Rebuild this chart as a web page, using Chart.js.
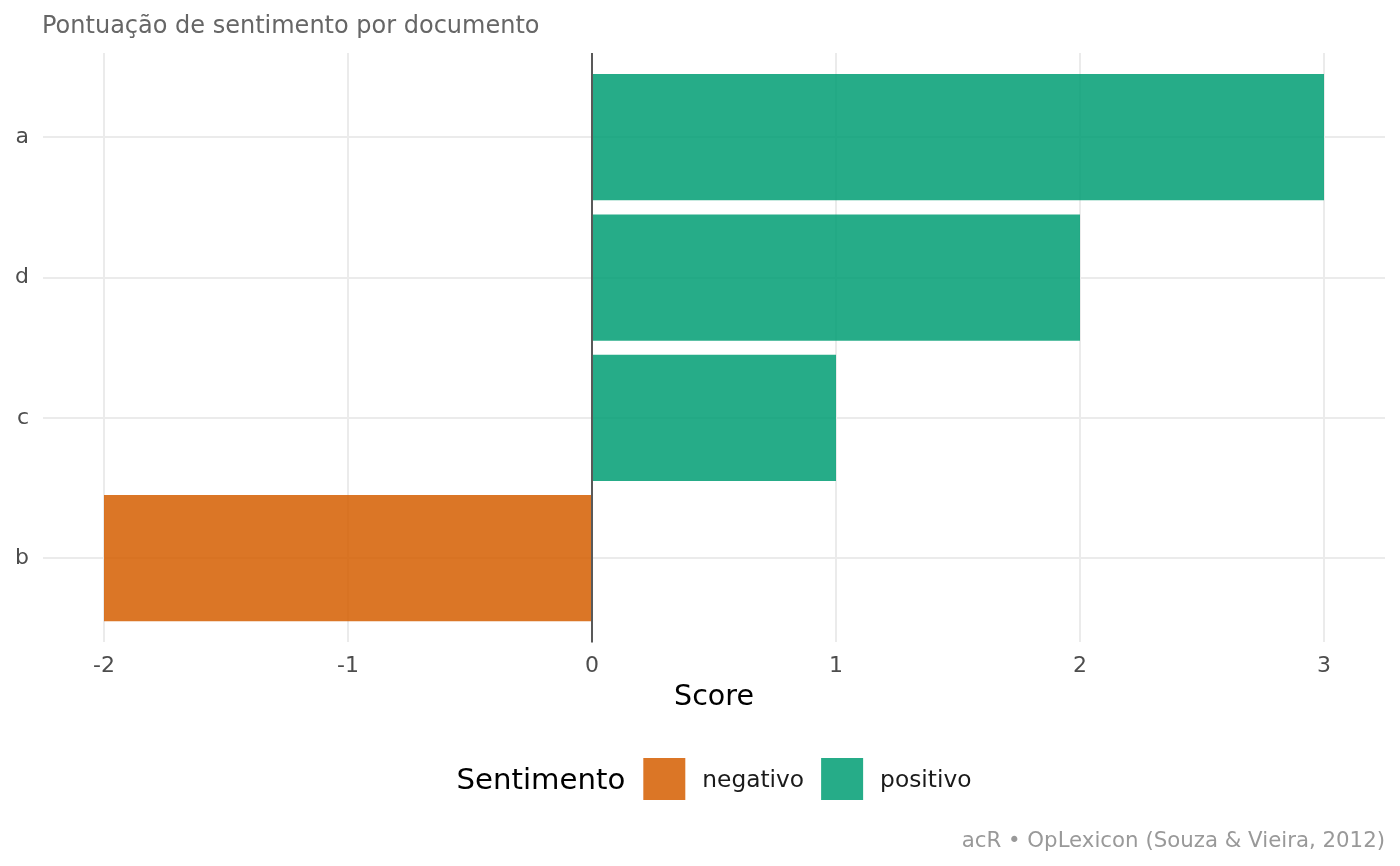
<!DOCTYPE html>
<html><head><meta charset="utf-8">
<script src="https://cdn.jsdelivr.net/npm/chart.js@4.4.1/dist/chart.umd.min.js"></script>
<style>html,body{margin:0;padding:0;background:#fff}#wrap{width:1400px;height:866px;position:relative}</style>
</head><body><div id="wrap"><canvas id="c"></canvas></div>
<script>
// ---- data ----
const categories = ['a', 'd', 'c', 'b'];
const negativoValues = [null, null, null, -2];
const positivoValues = [3, 2, 1, null];
const xTicks = [-2, -1, 0, 1, 2, 3];
const seriesNames = ['negativo', 'positivo'];
const seriesColors = ['rgba(213,94,0,0.85)', 'rgba(0,158,115,0.85)'];
const titleText = 'Pontuação de sentimento por documento';
const xTitle = 'Score';
const legendTitle = 'Sentimento';
const captionText = 'acR • OpLexicon (Souza & Vieira, 2012)';

const FONT = "'DejaVu Sans', 'Liberation Sans', sans-serif";
Chart.defaults.font.family = FONT;

// category scale with ggplot-like discrete expansion (0.6 instead of 0.5)
class PaddedCategory extends Chart.CategoryScale {
  buildTicks() {
    const ticks = super.buildTicks();
    this._startValue = this.min - 0.6;
    this._valueRange = (this.max - this.min) + 1.2;
    return ticks;
  }
}
PaddedCategory.id = 'paddedCategory';
PaddedCategory.defaults = Chart.CategoryScale.defaults;
Chart.register(PaddedCategory);

// continuous expansion 5% as in ggplot
const allVals = negativoValues.concat(positivoValues).filter(v => v !== null).concat([0]);
const dMin = Math.min(...allVals), dMax = Math.max(...allVals);
const ext = (dMax - dMin) * 0.05;

const decor = {
  id: 'decor',
  afterDatasetsDraw(chart) {
    const {ctx, chartArea, scales} = chart;
    const x0 = scales.x.getPixelForValue(0);
    ctx.save();
    ctx.strokeStyle = '#595959';
    ctx.lineWidth = 2;
    ctx.beginPath();
    ctx.moveTo(x0, chartArea.top);
    ctx.lineTo(x0, chartArea.bottom);
    ctx.stroke();
    ctx.restore();
  },
  afterDraw(chart) {
    const {ctx, chartArea} = chart;
    ctx.save();
    ctx.textBaseline = 'alphabetic';
    // title
    ctx.font = '24px ' + FONT;
    ctx.fillStyle = '#666666';
    ctx.textAlign = 'left';
    ctx.fillText(titleText, chartArea.left - 1, 33);
    // caption
    ctx.font = '21.3px ' + FONT;
    ctx.fillStyle = '#999999';
    ctx.textAlign = 'right';
    ctx.fillText(captionText, chartArea.right, 847);
    // legend
    ctx.textAlign = 'left';
    const key = 42;
    const tFont = '29.2px ' + FONT, lFont = '23.3px ' + FONT;
    ctx.font = tFont;
    const tW = ctx.measureText(legendTitle).width;
    ctx.font = lFont;
    const lW = seriesNames.map(s => ctx.measureText(s).width);
    const gapTitle = 18, gapKey = 17, gapItem = 17;
    let total = tW + gapTitle;
    lW.forEach((w, i) => { total += key + gapKey + w + (i < lW.length - 1 ? gapItem : 0); });
    let x = (chartArea.left + chartArea.right) / 2 - total / 2;
    ctx.font = tFont;
    ctx.fillStyle = '#000';
    ctx.fillText(legendTitle, x, 788.5);
    x += tW + gapTitle;
    seriesNames.forEach((s, i) => {
      ctx.fillStyle = seriesColors[i];
      ctx.fillRect(x, 758, key, key);
      x += key + gapKey;
      ctx.font = lFont;
      ctx.fillStyle = '#1a1a1a';
      ctx.fillText(s, x, 786.5);
      x += lW[i] + gapItem;
    });
    ctx.restore();
  }
};

new Chart(document.getElementById('c'), {
  type: 'bar',
  data: {
    labels: categories,
    datasets: [
      {label: seriesNames[0], data: negativoValues, backgroundColor: seriesColors[0], borderWidth: 0},
      {label: seriesNames[1], data: positivoValues, backgroundColor: seriesColors[1], borderWidth: 0}
    ]
  },
  options: {
    indexAxis: 'y',
    responsive: true,
    maintainAspectRatio: false,
    devicePixelRatio: 1,
    animation: false,
    datasets: {bar: {categoryPercentage: 0.9, barPercentage: 1.0}},
    layout: {padding: {left: 0, right: 15, top: 53, bottom: 151.8}},
    plugins: {legend: {display: false}, title: {display: false}, tooltip: {enabled: false}},
    scales: {
      x: {
        type: 'linear',
        stacked: true,
        min: dMin - ext,
        max: dMax + ext,
        afterBuildTicks(s) { s.ticks = xTicks.map(v => ({value: v})); },
        afterFit(s) { s.height = 71.8; },
        border: {display: false},
        grid: {color: '#ebebeb', lineWidth: 2, drawTicks: false},
        ticks: {
          color: '#4d4d4d', font: {size: 22}, padding: 11, autoSkip: false, maxRotation: 0,
          callback: v => String(v)
        },
        title: {display: true, text: xTitle, color: '#000', font: {size: 28.5}, padding: {top: 0, bottom: 0}}
      },
      y: {
        type: 'paddedCategory',
        stacked: true,
        offset: true,
        afterFit(s) { s.width = 43; },
        border: {display: false},
        grid: {color: '#ebebeb', lineWidth: 2, drawTicks: false, offset: false},
        ticks: {color: '#4d4d4d', font: {size: 22}, padding: 14}
      }
    }
  },
  plugins: [decor]
});
</script>
</body></html>
